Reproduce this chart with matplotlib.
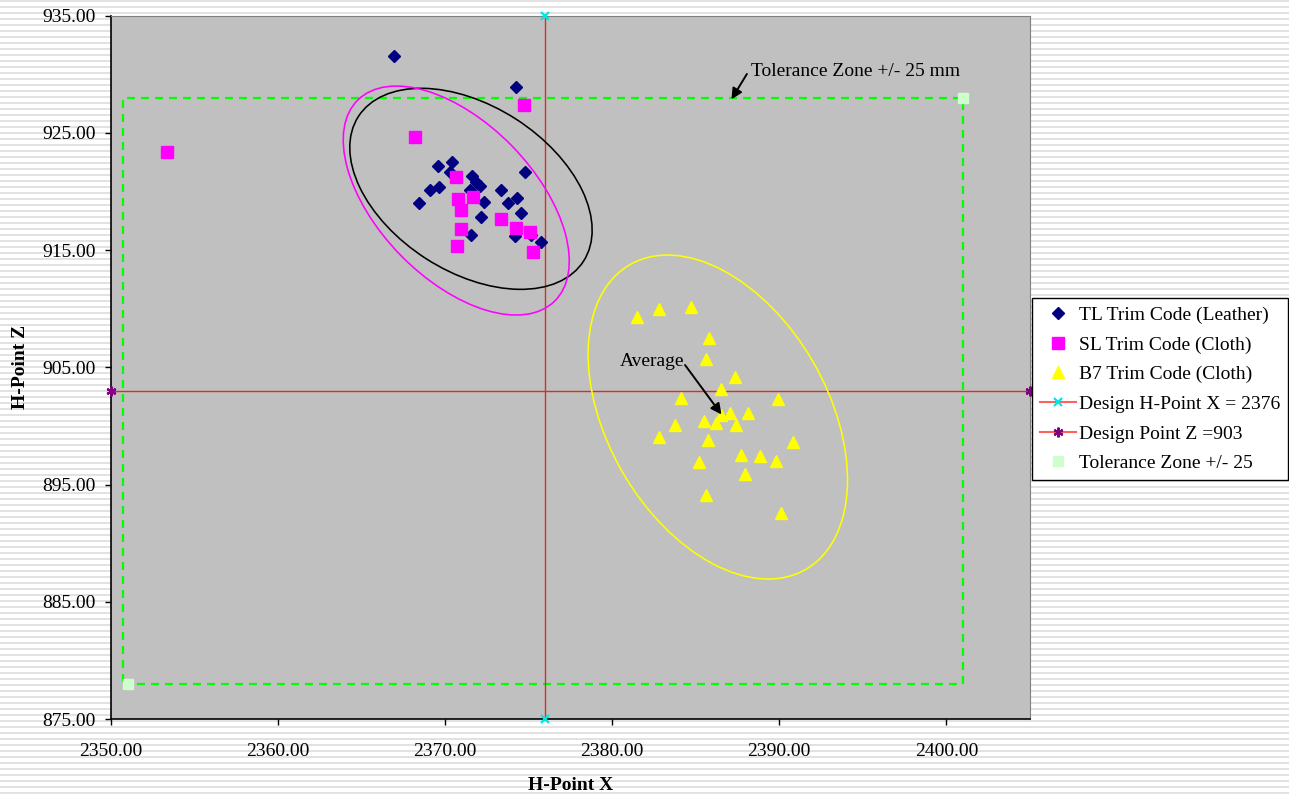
import numpy as np
import matplotlib
matplotlib.use('Agg')
import matplotlib.pyplot as plt
from matplotlib.patches import Ellipse
from matplotlib.transforms import Affine2D, ScaledTranslation
from matplotlib.ticker import FormatStrFormatter
from matplotlib.lines import Line2D

plt.rcParams['font.family'] = ['Liberation Serif', 'DejaVu Serif']
plt.rcParams['font.size'] = 14

# TL trim code (leather)
tl_x = [2366.97, 2374.26, 2369.59, 2370.43, 2370.32, 2369.08, 2369.65, 2368.42,
        2371.62, 2371.88, 2372.12, 2371.52, 2372.36, 2373.32, 2374.76, 2373.76,
        2374.32, 2372.16, 2374.56, 2371.56, 2374.18, 2375.12, 2375.76]
tl_z = [931.56, 928.94, 922.18, 922.54, 921.69, 920.13, 920.41, 919.04,
        921.32, 920.84, 920.47, 920.13, 919.13, 920.13, 921.64, 919.04,
        919.42, 917.85, 918.14, 916.26, 916.20, 916.29, 915.72]

# SL trim code (cloth)
sl_x = [2353.37, 2374.72, 2368.23, 2370.68, 2370.78, 2371.66, 2370.98,
        2370.96, 2370.74, 2373.36, 2374.26, 2375.07, 2375.25]
sl_z = [923.37, 927.38, 924.62, 921.21, 919.36, 919.56, 918.40,
        916.80, 915.38, 917.63, 916.86, 916.52, 914.86]

# B7 trim code (cloth)
b7_x = [2381.51, 2382.83, 2384.72, 2385.82, 2385.60, 2387.32, 2386.52, 2384.12,
        2389.92, 2387.04, 2388.12, 2386.50, 2385.52, 2386.22, 2387.42, 2383.73,
        2382.83, 2385.72, 2390.81, 2387.72, 2388.82, 2389.81, 2385.22, 2387.92,
        2385.62, 2390.11]
b7_z = [909.32, 909.95, 910.12, 907.53, 905.71, 904.15, 903.12, 902.41,
        902.30, 901.13, 901.13, 900.93, 900.42, 900.22, 900.08, 900.08,
        899.08, 898.80, 898.65, 897.52, 897.43, 897.00, 896.95, 895.87,
        894.10, 892.59]

design_x = 2376
design_z = 903
tol = 25
zone_x = [2350.75, 2401.0]
zone_z = [878.0, 928.0]

x_limits = [2350, 2405]
z_limits = [875, 935]
x_ticks = [2350, 2360, 2370, 2380, 2390, 2400]
z_ticks = [875, 885, 895, 905, 915, 925, 935]

# ellipses: centre in data, size in pixels, angle in degrees
ell_centers = [(2371.55, 920.23), (2370.67, 919.23), (2386.32, 900.76)]
ell_sizes = [(267.6, 166.0), (281.4, 156.0), (351.8, 220.2)]
ell_angles = [-32.7, -45.7, -60.0]
ell_colors = ['black', '#ff00ff', '#ffff00']

W, H = 1289, 794
fig = plt.figure(figsize=(W / 100, H / 100), dpi=100)

# striped background
rows = np.arange(H)
stripe = np.where(rows % 6 < 2, 0.89, 1.0)
bg = np.repeat(stripe[:, None], W, axis=1)
fig.figimage(np.dstack([bg, bg, bg]), xo=0, yo=0, origin='upper', zorder=-5)

ax = fig.add_axes([110.8 / W, 1 - 719 / H, (1030 - 110.8) / W, (719 - 15.7) / H])
ax.set_facecolor('#c0c0c0')
ax.set_xlim(x_limits)
ax.set_ylim(z_limits)

# tolerance zone box
ax.plot([zone_x[0], zone_x[1], zone_x[1], zone_x[0], zone_x[0]],
        [zone_z[0], zone_z[0], zone_z[1], zone_z[1], zone_z[0]],
        color='#00ff00', lw=1.6, ls=(0, (3.6, 2.7)), zorder=2)

ax.plot(x_limits, [design_z, design_z], color='#d8301f', lw=1.0)
ax.plot([design_x, design_x], z_limits, color='#d8301f', lw=1.0)

h_tl, = ax.plot(tl_x, tl_z, ls='none', marker='D', ms=6.6, color='#000080',
                label='TL Trim Code (Leather)', zorder=4)
h_sl, = ax.plot(sl_x, sl_z, ls='none', marker='s', ms=8, color='#ff00ff',
                label='SL Trim Code (Cloth)', zorder=4)
h_b7, = ax.plot(b7_x, b7_z, ls='none', marker='^', ms=9, color='#ffff00',
                label='B7 Trim Code (Cloth)', zorder=4)

h_dx, = ax.plot([design_x, design_x], z_limits, ls='none', marker='x', ms=6, mew=1.6,
                color='#00e5e5', clip_on=False, zorder=5)
h_dz, = ax.plot(x_limits, [design_z, design_z], ls='none', marker=(6, 2, 0), ms=7,
                mew=1.6, color='#800080', clip_on=False, zorder=5)
h_tz, = ax.plot([design_x - tol, design_x + tol], [design_z - tol, design_z + tol],
                ls='none', marker='s', ms=7.5, color='#ccffcc', zorder=3,
                label='Tolerance Zone +/- 25')

for c, s, a, col in zip(ell_centers, ell_sizes, ell_angles, ell_colors):
    tr = Affine2D() + ScaledTranslation(c[0], c[1], ax.transData)
    ax.add_patch(Ellipse((0, 0), s[0], s[1], angle=a, fill=False, ec=col,
                         lw=1.15, transform=tr, zorder=6))

ax.text(2388.3, 930.2, 'Tolerance Zone +/- 25 mm', va='center', ha='left', fontsize=14)
ax.annotate('', xy=(2387.14, 927.87), xytext=(2388.06, 930.03),
            arrowprops=dict(arrowstyle='-|>', color='black', lw=1.4, mutation_scale=16,
                            shrinkA=0, shrinkB=0))
ax.text(2380.47, 905.48, 'Average', va='center', ha='left', fontsize=14)
ax.annotate('', xy=(2386.54, 900.98), xytext=(2384.36, 905.2),
            arrowprops=dict(arrowstyle='-|>', color='black', lw=1.4, mutation_scale=16,
                            shrinkA=0, shrinkB=0), zorder=7)

ax.set_xticks(x_ticks)
ax.set_yticks(z_ticks)
ax.xaxis.set_major_formatter(FormatStrFormatter('%.2f'))
ax.yaxis.set_major_formatter(FormatStrFormatter('%.2f'))
ax.tick_params(direction='out', length=4.5, width=1, labelsize=14)
ax.tick_params(axis='x', pad=13)
ax.tick_params(axis='y', pad=6.6)
for side in ['top', 'right']:
    ax.spines[side].set_color('#808080')
for side in ['left', 'bottom']:
    ax.spines[side].set_color('black')
    ax.spines[side].set_linewidth(1.2)

ax.set_xlabel('H-Point X', fontweight='bold', fontsize=14, labelpad=12)
ax.set_ylabel('H-Point Z', fontweight='bold', fontsize=14, labelpad=9)

# legend handles: lines with marker in the middle
lh_dx = Line2D([], [], color='#ff6060', lw=1.5, marker='x', ms=6, mew=1.6,
               mec='#00e5e5')
lh_dz = Line2D([], [], color='#ff6060', lw=1.5, marker=(6, 2, 0), ms=7, mew=1.6,
               mec='#800080')
leg = ax.legend([h_tl, h_sl, h_b7, lh_dx, lh_dz, h_tz],
                ['TL Trim Code (Leather)', 'SL Trim Code (Cloth)', 'B7 Trim Code (Cloth)',
                 'Design H-Point X = 2376', 'Design Point Z =903', 'Tolerance Zone +/- 25'],
                loc='upper left', bbox_to_anchor=(1032 / W, 1 - 298 / H),
                bbox_transform=fig.transFigure, borderaxespad=0, fancybox=False,
                framealpha=1, edgecolor='black', fontsize=14, handlelength=1.85,
                handletextpad=0.15, labelspacing=0.62, borderpad=0.42, numpoints=1)
leg.get_frame().set_linewidth(1.0)

fig.savefig('out.png', dpi=100)
